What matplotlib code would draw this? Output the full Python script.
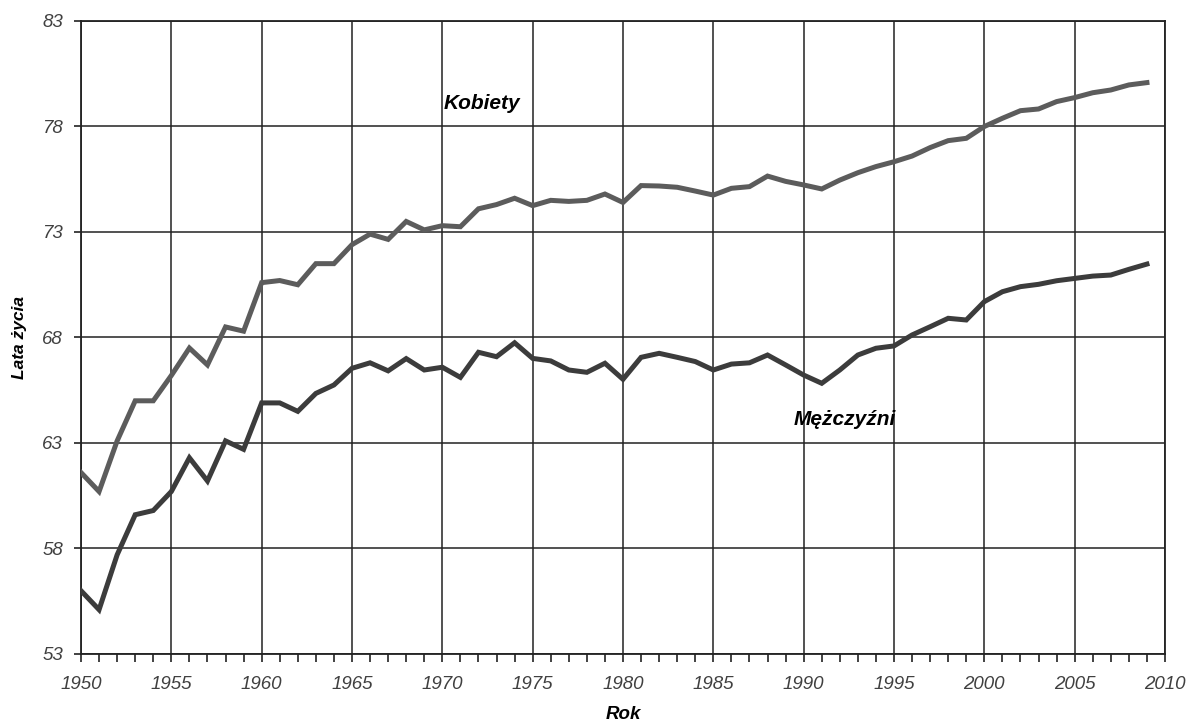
import numpy as np
import matplotlib
matplotlib.use('Agg')
import matplotlib.pyplot as plt
from matplotlib.ticker import MultipleLocator

# Dane: przeciętne dalsze trwanie życia w chwili urodzenia
lata = list(range(1950, 2010))

kobiety = [61.6, 60.7, 63.1, 65.0, 65.0, 66.2, 67.5, 66.7, 68.5, 68.3,
           70.6, 70.7, 70.5, 71.5, 71.5, 72.4, 72.9, 72.65, 73.5, 73.1,
           73.3, 73.25, 74.1, 74.3, 74.6, 74.25, 74.5, 74.45, 74.5, 74.8,
           74.4, 75.2, 75.18, 75.12, 74.94, 74.75, 75.07, 75.15, 75.65, 75.4,
           75.23, 75.04, 75.46, 75.81, 76.1, 76.33, 76.6, 77.0, 77.33, 77.44,
           78.0, 78.39, 78.75, 78.83, 79.18, 79.37, 79.6, 79.73, 79.97, 80.08]

mezczyzni = [56.0, 55.1, 57.7, 59.6, 59.8, 60.7, 62.3, 61.2, 63.1, 62.7,
             64.9, 64.9, 64.5, 65.35, 65.75, 66.54, 66.8, 66.42, 67.0, 66.46,
             66.59, 66.11, 67.3, 67.09, 67.75, 67.01, 66.89, 66.46, 66.35, 66.78,
             66.02, 67.06, 67.25, 67.06, 66.86, 66.46, 66.74, 66.8, 67.17, 66.7,
             66.22, 65.83, 66.46, 67.17, 67.49, 67.6, 68.12, 68.51, 68.91, 68.83,
             69.7, 70.17, 70.41, 70.52, 70.69, 70.8, 70.91, 70.96, 71.23, 71.48]

y_ticks = [53, 58, 63, 68, 73, 78, 83]

fig = plt.figure(figsize=(11.9, 7.22), dpi=100)
ax = fig.add_axes([81 / 1190, 68 / 722, 1084 / 1190, 633 / 722])

ax.plot(lata, kobiety, color='#5c5c5c', linewidth=3.6, solid_joinstyle='miter', zorder=3)
ax.plot(lata, mezczyzni, color='#3c3c3c', linewidth=3.6, solid_joinstyle='miter', zorder=3)

ax.set_xlim(1950, 2010)
ax.set_ylim(53, 83)
ax.xaxis.set_major_locator(MultipleLocator(5))
ax.xaxis.set_minor_locator(MultipleLocator(1))
ax.set_yticks(y_ticks)

ax.grid(True, which='major', color='#222222', linewidth=1.1)
for s in ax.spines.values():
    s.set_color('#222222')
    s.set_linewidth(1.3)

ax.tick_params(axis='both', which='both', direction='out', color='#222222')
ax.tick_params(axis='x', which='major', length=6, width=1.2, pad=10)
ax.tick_params(axis='x', which='minor', length=6, width=1.2)
ax.tick_params(axis='y', which='major', length=5, width=1.2, pad=8)

for lab in ax.get_xticklabels() + ax.get_yticklabels():
    lab.set_fontstyle('italic')
    lab.set_fontsize(13.5)
    lab.set_color('#404040')
    lab.set_family('Liberation Sans')

ax.set_xlabel('Rok', fontsize=13.5, fontweight='bold', fontstyle='italic',
              family='Liberation Sans', labelpad=9)
ax.set_ylabel('Lata życia', fontsize=12.5, fontweight='bold', fontstyle='italic',
              family='Liberation Sans', labelpad=11)

ax.text(1972.2, 79.1, 'Kobiety', fontsize=15, fontweight='bold', fontstyle='italic',
        family='Liberation Sans', ha='center', va='center')
ax.text(1992.3, 64.1, 'Mężczyźni', fontsize=15, fontweight='bold', fontstyle='italic',
        family='Liberation Sans', ha='center', va='center')

fig.savefig('out.png', dpi=100)
